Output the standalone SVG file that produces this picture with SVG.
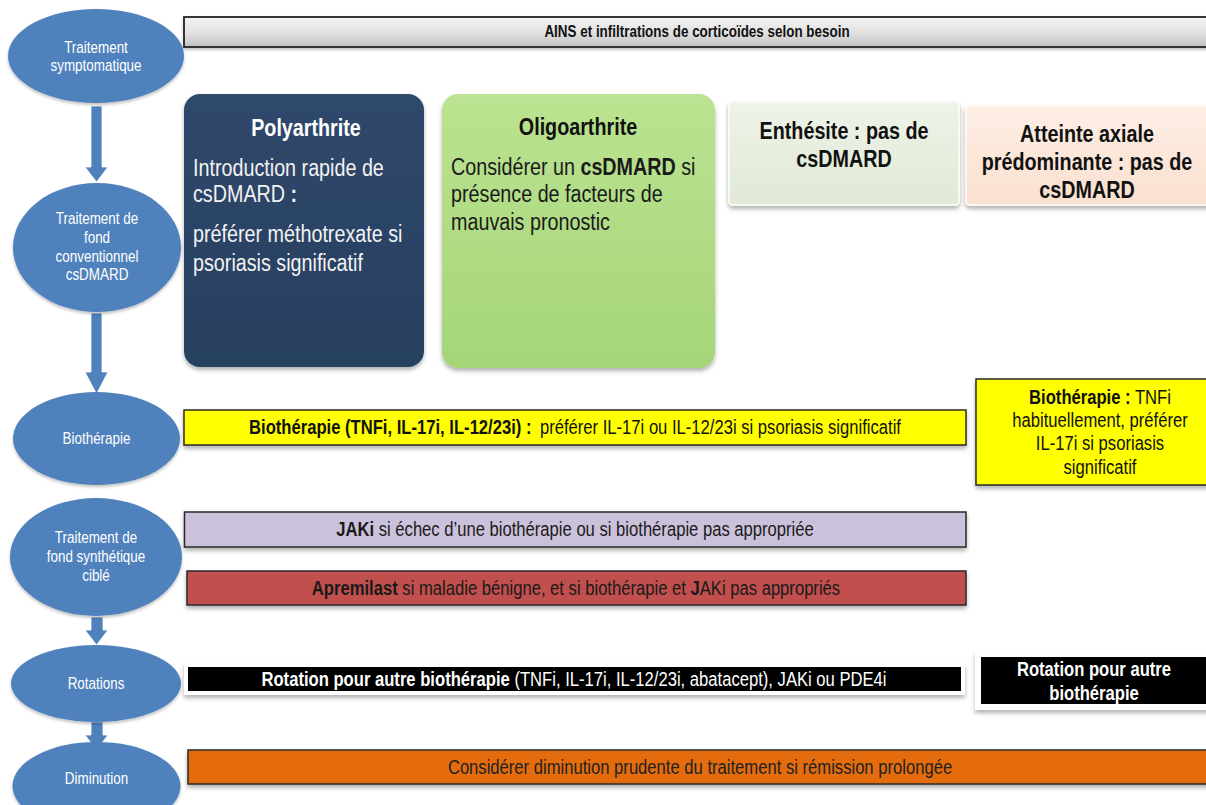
<svg xmlns="http://www.w3.org/2000/svg" width="1206" height="805" viewBox="0 0 1206 805">
<defs>
<filter id="sh" x="-10%" y="-20%" width="120%" height="150%"><feDropShadow dx="0" dy="3" stdDeviation="2" flood-color="#000" flood-opacity="0.3"/></filter>
<filter id="shs" x="-10%" y="-20%" width="120%" height="150%"><feDropShadow dx="0" dy="2" stdDeviation="1.5" flood-color="#000" flood-opacity="0.25"/></filter>
<linearGradient id="gGray" x1="0" y1="0" x2="0" y2="1"><stop offset="0" stop-color="#f4f4f4"/><stop offset="0.5" stop-color="#e2e2e2"/><stop offset="1" stop-color="#c2c2c2"/></linearGradient>
<linearGradient id="gNavy" x1="0" y1="0" x2="0" y2="1"><stop offset="0" stop-color="#2f486b"/><stop offset="1" stop-color="#283f5f"/></linearGradient>
<linearGradient id="gGreen" x1="0" y1="0" x2="0" y2="1"><stop offset="0" stop-color="#bbe391"/><stop offset="1" stop-color="#a6d579"/></linearGradient>
<linearGradient id="gEnt" x1="0" y1="0" x2="0" y2="1"><stop offset="0" stop-color="#eef3e8"/><stop offset="1" stop-color="#e0e9d5"/></linearGradient>
<linearGradient id="gPeach" x1="0" y1="0" x2="0" y2="1"><stop offset="0" stop-color="#fdeee4"/><stop offset="1" stop-color="#fae0d0"/></linearGradient>
<style>
text{font-family:"Liberation Sans",Arial,sans-serif;}
.ell{fill:#4f81bd;filter:url(#shs);}
.et{fill:#fff;font-size:16px;text-anchor:middle;}
.arr{fill:#4f81bd;stroke:#fff;stroke-width:0.8;}
.bar{stroke:#2a2a2a;stroke-width:1.5;filter:url(#sh);}
.bt{font-size:19.8px;text-anchor:middle;}
.big{font-size:23.5px;}
.b{font-weight:bold;}
.mid{text-anchor:middle;}
</style>
</defs>

<g id="connectors">
<polygon class="arr" points="91,106 102,106 102,167 108,167 96.5,182 85,167 91,167"/>
<polygon class="arr" points="91,313 102,313 102,372 108,372 96.5,394 85,372 91,372"/>
<polygon class="arr" points="91,617 103,617 103,630 108,630 96.5,645 85,630 91,630"/>
<polygon class="arr" points="91,722 103,722 103,735 108,735 96.5,750 85,735 91,735"/>
</g>

<g id="n-traitement-symptomatique">
<ellipse class="ell" cx="96" cy="56" rx="88" ry="47"/>
<g transform="translate(96 0) scale(0.84 1)"><text class="et" x="0" y="53">Traitement</text><text class="et" x="0" y="71">symptomatique</text></g>
</g>

<g id="n-traitement-fond">
<ellipse class="ell" cx="97" cy="247.5" rx="84" ry="64.5"/>
<g transform="translate(97 0) scale(0.84 1)"><text class="et" x="0" y="224">Traitement de</text><text class="et" x="0" y="243">fond</text><text class="et" x="0" y="262">conventionnel</text><text class="et" x="0" y="280">csDMARD</text></g>
</g>

<g id="n-biotherapie">
<ellipse class="ell" cx="96.5" cy="438.5" rx="83.5" ry="46.5"/>
<g transform="translate(96.5 0) scale(0.84 1)"><text class="et" x="0" y="444">Biothérapie</text></g>
</g>

<g id="n-synthetique">
<ellipse class="ell" cx="96" cy="557" rx="86" ry="59"/>
<g transform="translate(96 0) scale(0.84 1)"><text class="et" x="0" y="543">Traitement de</text><text class="et" x="0" y="562">fond synthétique</text><text class="et" x="0" y="581">ciblé</text></g>
</g>

<g id="n-rotations">
<ellipse class="ell" cx="96" cy="683.5" rx="85" ry="38.5"/>
<g transform="translate(96 0) scale(0.84 1)"><text class="et" x="0" y="689">Rotations</text></g>
</g>

<g id="n-diminution">
<ellipse class="ell" cx="96.5" cy="786" rx="84" ry="44"/>
<g transform="translate(96.5 0) scale(0.84 1)"><text class="et" x="0" y="784">Diminution</text></g>
</g>

<g id="n-ains">
<rect x="184" y="17" width="1030" height="30" fill="url(#gGray)" stroke="#222" stroke-width="1.8" filter="url(#shs)"/>
<g transform="translate(697 0) scale(0.84 1)"><text class="b mid" x="0" y="37.5" font-size="16" fill="#111">AINS et infiltrations de corticoïdes selon besoin</text></g>
</g>

<g id="n-polyarthrite">
<rect x="184" y="94" width="240" height="273" rx="16" fill="url(#gNavy)" filter="url(#sh)"/>
<g transform="translate(306 0) scale(0.84 1)"><text class="big b mid" x="0" y="136" fill="#fff">Polyarthrite</text></g>
<g transform="translate(193 0) scale(0.84 1)" fill="#f2f2f2">
<text class="big" x="0" y="176">Introduction rapide de</text>
<text class="big" x="0" y="202">csDMARD <tspan class="b">:</tspan></text>
<text class="big" x="0" y="242">préférer méthotrexate si</text>
<text class="big" x="0" y="271">psoriasis significatif</text>
</g>
</g>

<g id="n-oligoarthrite">
<rect x="442" y="94" width="273" height="274" rx="16" fill="url(#gGreen)" filter="url(#sh)"/>
<g transform="translate(578 0) scale(0.84 1)"><text class="big b mid" x="0" y="135" fill="#111">Oligoarthrite</text></g>
<g transform="translate(451 0) scale(0.84 1)" fill="#1a1a1a">
<text class="big" x="0" y="175">Considérer un <tspan class="b">csDMARD</tspan> si</text>
<text class="big" x="0" y="202">présence de facteurs de</text>
<text class="big" x="0" y="230">mauvais pronostic</text>
</g>
</g>

<g id="n-enthesite">
<rect x="729" y="102" width="230" height="103" rx="4" fill="url(#gEnt)" stroke="#f8faf5" stroke-width="2" filter="url(#sh)"/>
<g transform="translate(844 0) scale(0.84 1)" fill="#111">
<text class="big b mid" x="0" y="139">Enthésite : pas de</text>
<text class="big b mid" x="0" y="167">csDMARD</text>
</g>
</g>

<g id="n-axiale">
<rect x="966" y="106" width="250" height="99" rx="4" fill="url(#gPeach)" stroke="#fff6f0" stroke-width="2" filter="url(#sh)"/>
<g transform="translate(1087 0) scale(0.84 1)" fill="#111">
<text class="big b mid" x="0" y="142">Atteinte axiale</text>
<text class="big b mid" x="0" y="170">prédominante : pas de</text>
<text class="big b mid" x="0" y="198">csDMARD</text>
</g>
</g>

<g id="n-bio-bar">
<rect class="bar" x="184" y="410" width="782" height="35" fill="#ffff00"/>
<g transform="translate(575 0) scale(0.84 1)"><text class="bt" x="0" y="434" fill="#111"><tspan class="b">Biothérapie (TNFi, IL-17i, IL-12/23i) :</tspan><tspan dx="10">préférer IL-17i ou IL-12/23i si psoriasis significatif</tspan></text></g>
</g>

<g id="n-bio-right">
<rect class="bar" x="976" y="379" width="250" height="106" fill="#ffff00"/>
<g transform="translate(1100 0) scale(0.84 1)" fill="#111">
<text class="bt" x="0" y="404"><tspan class="b">Biothérapie :</tspan> TNFi</text>
<text class="bt" x="0" y="427">habituellement, préférer</text>
<text class="bt" x="0" y="450">IL-17i si psoriasis</text>
<text class="bt" x="0" y="474">significatif</text>
</g>
</g>

<g id="n-jaki">
<rect class="bar" x="184.5" y="512" width="781.5" height="35" fill="#ccc1da"/>
<g transform="translate(575 0) scale(0.84 1)"><text class="bt" x="0" y="536" fill="#1a1a1a"><tspan class="b">JAKi</tspan> si échec d’une biothérapie ou si biothérapie pas appropriée</text></g>
</g>

<g id="n-apremilast">
<rect class="bar" x="187" y="571" width="779" height="34" fill="#c0504d"/>
<g transform="translate(576 0) scale(0.84 1)"><text class="bt" x="0" y="595.5" fill="#1a1a1a"><tspan class="b">Apremilast</tspan> si maladie bénigne, et si biothérapie et <tspan class="b">J</tspan>AKi pas appropriés</text></g>
</g>

<g id="n-rotation-bar">
<rect x="186" y="665" width="777" height="28" fill="#000" stroke="#fff" stroke-width="4" filter="url(#sh)"/>
<g transform="translate(574 0) scale(0.84 1)"><text class="bt" x="0" y="686" fill="#fff"><tspan class="b">Rotation pour autre biothérapie</tspan> (TNFi, IL-17i, IL-12/23i, abatacept), JAKi ou PDE4i</text></g>
</g>

<g id="n-rotation-right">
<rect x="978" y="654" width="240" height="53" fill="#000" stroke="#fff" stroke-width="6" filter="url(#sh)"/>
<g transform="translate(1094 0) scale(0.84 1)" fill="#fff">
<text class="bt b" x="0" y="676">Rotation pour autre</text>
<text class="bt b" x="0" y="700">biothérapie</text>
</g>
</g>

<g id="n-diminution-bar">
<rect class="bar" x="188" y="750" width="1030" height="34" fill="#e46c0a"/>
<g transform="translate(700 0) scale(0.84 1)"><text class="bt" x="0" y="774" fill="#222">Considérer diminution prudente du traitement si rémission prolongée</text></g>
</g>
</svg>
